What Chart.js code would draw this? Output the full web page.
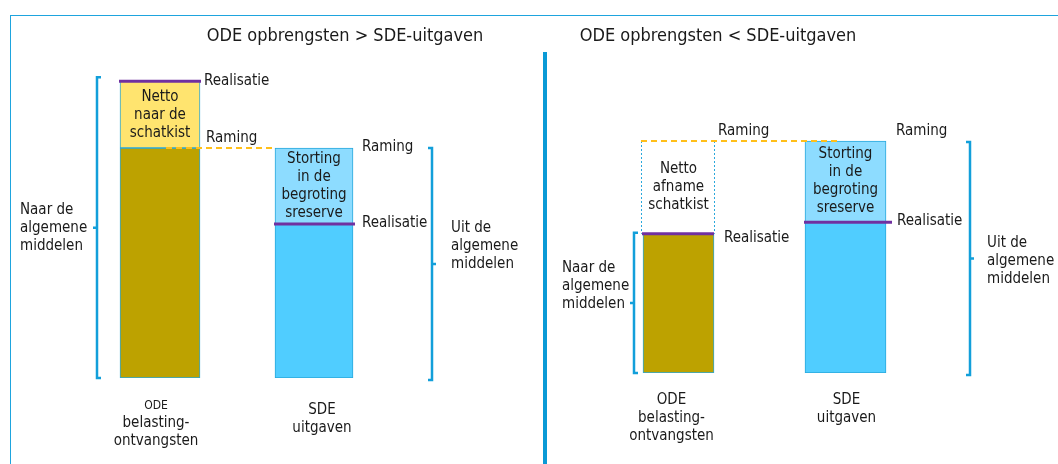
<!DOCTYPE html>
<html>
<head>
<meta charset="utf-8">
<script src="https://cdn.jsdelivr.net/npm/chart.js@4"></script>
<style>
  body { margin: 0; background: #fff; }
  #wrap { position: relative; width: 1058px; height: 464px; overflow: hidden; }
  #frame { position: absolute; left: 10px; top: 15px; width: 1100px; height: 500px;
           border-top: 1px solid #1ea4de; border-left: 1px solid #1ea4de; }
  #divider { position: absolute; left: 543px; top: 52px; width: 4px; height: 420px; background: #0a9ad6; }
  canvas { position: absolute; left: 0; top: 0; }
</style>
</head>
<body>
<div id="wrap">
  <div id="frame"></div>
  <div id="divider"></div>
  <canvas id="links" width="1058" height="464"></canvas>
  <canvas id="rechts" width="1058" height="464"></canvas>
</div>
<script>
// categorieen
const categories = ["ODE belasting-ontvangsten", "SDE uitgaven"];

// links: ODE opbrengsten > SDE-uitgaven (index 0 = ODE, 1 = SDE)
const leftRaming = [100, 100];
const leftRealisatie = [129, 67];

// rechts: ODE opbrengsten < SDE-uitgaven
const rightRaming = [100, 100];
const rightRealisatie = [60, 65];

const FONT = '"DejaVu Sans Condensed", "DejaVu Sans", sans-serif';
const OLIVE = "#bda200";
const YELLOW = "#ffe46f";
const BLUE = "#50cdff";
const LIGHTBLUE = "#8ddcff";
const EDGE = "#2aa8dc";
const PURPLE = "#7030a0";
const BRACKET = "#129fda";
const ORANGE = "#ffbf1a";
const TEXT = "#1a1a1a";

function buildDatasets(raming, realisatie, odeTopColor, widths) {
  const base = raming.map((r, i) => Math.min(r, realisatie[i]));
  const diff = raming.map((r, i) => Math.abs(r - realisatie[i]));
  const common = { borderWidth: 1, borderSkipped: false };
  return [
    { label: "ODE basis", data: [base[0], null], backgroundColor: OLIVE, borderColor: EDGE, barThickness: widths[0], ...common },
    { label: "ODE verschil", data: [diff[0], null], backgroundColor: odeTopColor,
      borderColor: odeTopColor === "transparent" ? "transparent" : EDGE, barThickness: widths[0], ...common },
    { label: "SDE basis", data: [null, base[1]], backgroundColor: BLUE, borderColor: EDGE, barThickness: widths[1], ...common },
    { label: "SDE verschil", data: [null, diff[1]], backgroundColor: LIGHTBLUE, borderColor: EDGE, barThickness: widths[1], ...common }
  ];
}

function text(ctx, str, x, y, size, align) {
  ctx.font = size + "px " + FONT;
  ctx.fillStyle = TEXT;
  ctx.textAlign = align || "left";
  ctx.textBaseline = "middle";
  ctx.fillText(str, x, y);
}

function makeDiagram(cfg) {
  return {
    id: "diagram",
    afterDatasetsDraw(chart) {
      const ctx = chart.ctx;
      const y = chart.scales.y;
      const bars = [0, 1].map(i => {
        const el = chart.getDatasetMeta(i === 0 ? 0 : 2).data[i];
        const topEl = chart.getDatasetMeta(i === 0 ? 1 : 3).data[i];
        return { x: el.x, left: el.x - el.width / 2, right: el.x + el.width / 2, top: topEl, el };
      });
      const bottom = y.getPixelForValue(0);
      ctx.save();

      // gestippelde box (netto afname)
      if (cfg.dottedOde) {
        const t = bars[0].top;
        ctx.strokeStyle = "#2aa8dc";
        ctx.lineWidth = 1;
        ctx.setLineDash([2, 2]);
        ctx.beginPath();
        ctx.moveTo(bars[0].left - 1.5, t.y);
        ctx.lineTo(bars[0].left - 1.5, t.base);
        ctx.moveTo(bars[0].right + 0.5, t.y);
        ctx.lineTo(bars[0].right + 0.5, t.base);
        ctx.stroke();
      }

      // teksten in de bovenste segmenten
      cfg.inside.forEach((lines, i) => {
        const t = bars[i].top;
        const mid = (t.y + t.base) / 2;
        lines.forEach((s, k) => text(ctx, s, t.x, mid + (k - (lines.length - 1) / 2) * 18, 15, "center"));
      });

      // raming stippellijn
      const ry = y.getPixelForValue(cfg.raming[0]);
      ctx.strokeStyle = ORANGE;
      ctx.lineWidth = 2;
      ctx.setLineDash([6, 4]);
      ctx.beginPath();
      ctx.moveTo(cfg.dashFrom(bars), ry);
      ctx.lineTo(cfg.dashTo(bars), ry);
      ctx.stroke();
      ctx.setLineDash([]);

      // realisatie lijnen
      ctx.strokeStyle = PURPLE;
      ctx.lineWidth = 3;
      cfg.realisatie.forEach((v, i) => {
        const py = y.getPixelForValue(v);
        ctx.beginPath();
        ctx.moveTo(bars[i].left - 1, py);
        ctx.lineTo(bars[i].right + cfg.purpleExtend[i], py);
        ctx.stroke();
      });

      // labels Raming / Realisatie
      cfg.labels.forEach(l => {
        const v = l.kind === "Raming" ? cfg.raming[l.i] : cfg.realisatie[l.i];
        text(ctx, l.kind, bars[l.i].right + l.dx, y.getPixelForValue(v) + l.dy, 15);
      });

      // accolades
      ctx.strokeStyle = BRACKET;
      ctx.lineWidth = 2.5;
      cfg.brackets.forEach(b => {
        const top = y.getPixelForValue(b.to) - b.padTop;
        const bot = bottom + b.padBottom;
        const mid = (top + bot) / 2;
        const d = b.side === "left" ? 1 : -1;
        ctx.beginPath();
        ctx.moveTo(b.x + 4 * d, top);
        ctx.lineTo(b.x, top);
        ctx.lineTo(b.x, bot);
        ctx.lineTo(b.x + 4 * d, bot);
        ctx.moveTo(b.x, mid);
        ctx.lineTo(b.x - 4 * d, mid);
        ctx.stroke();
        b.lines.forEach((s, k) => text(ctx, s, b.textX, mid + b.textDy + (k - 1) * 18, 15));
      });

      // categorie labels
      cfg.catLabels.forEach((c, i) => {
        c.lines.forEach(l => text(ctx, l[0], bars[i].x + c.dx, bottom + l[1], l[2], "center"));
      });

      // titel
      text(ctx, cfg.title[0], cfg.title[1], cfg.title[2], 18, "center");
      ctx.restore();
    }
  };
}

function makeChart(id, raming, realisatie, odeTopColor, widths, padding, cfg) {
  return new Chart(document.getElementById(id), {
    type: "bar",
    data: { labels: categories, datasets: buildDatasets(raming, realisatie, odeTopColor, widths) },
    options: {
      responsive: false,
      animation: false,
      events: [],
      layout: { padding },
      scales: {
        x: { stacked: true, display: false },
        y: { stacked: true, display: false, min: 0, max: 150 }
      },
      plugins: { legend: { display: false }, tooltip: { enabled: false } }
    },
    plugins: [makeDiagram(Object.assign({ raming, realisatie }, cfg))]
  });
}

makeChart("links", leftRaming, leftRealisatie, YELLOW, [80, 78],
  { left: 83, right: 667, top: 33, bottom: 86 },
  {
    title: ["ODE opbrengsten > SDE-uitgaven", 345, 36],
    inside: [["Netto", "naar de", "schatkist"], ["Storting", "in de", "begroting", "sreserve"]],
    dottedOde: false,
    dashFrom: b => b[0].x + 6,
    dashTo: b => b[1].left,
    purpleExtend: [1, 2],
    labels: [
      { kind: "Realisatie", i: 0, dx: 4, dy: 0 },
      { kind: "Raming", i: 0, dx: 6, dy: -10 },
      { kind: "Raming", i: 1, dx: 9, dy: -1 },
      { kind: "Realisatie", i: 1, dx: 9, dy: -1 }
    ],
    brackets: [
      { x: 97, to: leftRealisatie[0], padTop: 4, padBottom: 0, side: "left",
        lines: ["Naar de", "algemene", "middelen"], textX: 20, textDy: 0 },
      { x: 432, to: leftRaming[1], padTop: 0, padBottom: 2, side: "right",
        lines: ["Uit de", "algemene", "middelen"], textX: 451, textDy: -18 }
    ],
    catLabels: [
      { dx: -4, lines: [["ODE", 28, 12], ["belasting-", 45, 15], ["ontvangsten", 63, 15]] },
      { dx: 8, lines: [["SDE", 32, 15], ["uitgaven", 50, 15]] }
    ]
  });

makeChart("rechts", rightRaming, rightRealisatie, "transparent", [71, 81],
  { left: 595, right: 129, top: 25, bottom: 91 },
  {
    title: ["ODE opbrengsten < SDE-uitgaven", 718, 36],
    inside: [["Netto", "afname", "schatkist"], ["Storting", "in de", "begroting", "sreserve"]],
    dottedOde: true,
    dashFrom: b => b[0].left - 2,
    dashTo: b => b[1].left + 32,
    purpleExtend: [0, 6],
    labels: [
      { kind: "Raming", i: 0, dx: 4, dy: -10 },
      { kind: "Realisatie", i: 0, dx: 10, dy: 4 },
      { kind: "Raming", i: 1, dx: 10, dy: -10 },
      { kind: "Realisatie", i: 1, dx: 11, dy: -1 }
    ],
    brackets: [
      { x: 634, to: rightRealisatie[0], padTop: 1, padBottom: 0, side: "left",
        lines: ["Naar de", "algemene", "middelen"], textX: 562, textDy: -17 },
      { x: 970, to: rightRaming[1], padTop: -1, padBottom: 2, side: "right",
        lines: ["Uit de", "algemene", "middelen"], textX: 987, textDy: 3 }
    ],
    catLabels: [
      { dx: -7, lines: [["ODE", 27, 15], ["belasting-", 45, 15], ["ontvangsten", 63, 15]] },
      { dx: 1, lines: [["SDE", 27, 15], ["uitgaven", 45, 15]] }
    ]
  });
</script>
</body>
</html>
